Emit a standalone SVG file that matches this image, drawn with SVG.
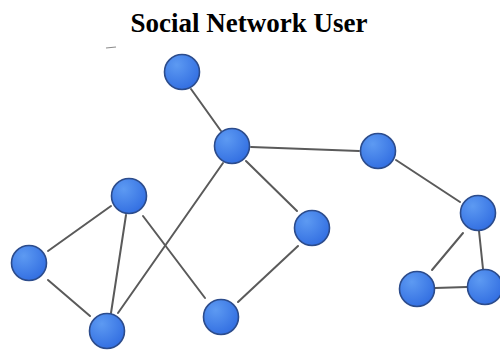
<svg xmlns="http://www.w3.org/2000/svg" width="500" height="351" viewBox="0 0 500 351">
  <defs>
    <radialGradient id="ball" cx="0.35" cy="0.3" r="0.8">
      <stop offset="0" stop-color="#5d9af2"/>
      <stop offset="1" stop-color="#2f6be0"/>
    </radialGradient>
    <style>
      .title { font-family: "Liberation Serif", "Times New Roman", serif; font-weight: bold; font-size: 27px; fill: #000; }
      .node { fill: url(#ball); stroke: #2c4c8c; stroke-width: 1.6; }
      .edge { stroke: #5a5a5a; stroke-width: 2; stroke-linecap: round; fill: none; }
    </style>
  </defs>
  <rect width="500" height="351" fill="#ffffff"/>
  <text class="title" x="249" y="32" text-anchor="middle">Social Network User</text>

  <!-- stray mark near the top left -->
  <line x1="106" y1="48" x2="116" y2="47" stroke="#8a8a8a" stroke-width="1.2"/>

  <g id="edges">
    <line class="edge" x1="191" y1="89" x2="221" y2="131"/>
    <line class="edge" x1="251" y1="147" x2="359" y2="151"/>
    <line class="edge" x1="246" y1="161" x2="297" y2="211"/>
    <line class="edge" x1="223" y1="163" x2="118" y2="313"/>
    <line class="edge" x1="396" y1="160" x2="460" y2="202"/>
    <line class="edge" x1="479" y1="231" x2="483" y2="269"/>
    <line class="edge" x1="463" y1="233" x2="432" y2="270"/>
    <line class="edge" x1="435" y1="288" x2="467" y2="287"/>
    <line class="edge" x1="298" y1="246" x2="238" y2="302"/>
    <line class="edge" x1="111" y1="206" x2="48" y2="251"/>
    <line class="edge" x1="126" y1="215" x2="111" y2="313"/>
    <line class="edge" x1="143" y1="216" x2="205" y2="298"/>
    <line class="edge" x1="48" y1="280" x2="90" y2="316"/>
  </g>

  <g id="n1"><circle class="node" cx="182" cy="72" r="17.5"/></g>
  <g id="n2"><circle class="node" cx="232" cy="146" r="17.5"/></g>
  <g id="n3"><circle class="node" cx="378" cy="151" r="17.5"/></g>
  <g id="n4"><circle class="node" cx="478" cy="213" r="17.5"/></g>
  <g id="n5"><circle class="node" cx="417" cy="289" r="17.5"/></g>
  <g id="n6"><circle class="node" cx="485" cy="287" r="17.5"/></g>
  <g id="n7"><circle class="node" cx="312" cy="228" r="17.5"/></g>
  <g id="n8"><circle class="node" cx="221" cy="317" r="17.5"/></g>
  <g id="n9"><circle class="node" cx="129" cy="196" r="17.5"/></g>
  <g id="n10"><circle class="node" cx="29" cy="263" r="17.5"/></g>
  <g id="n11"><circle class="node" cx="107" cy="331" r="17.5"/></g>
</svg>
